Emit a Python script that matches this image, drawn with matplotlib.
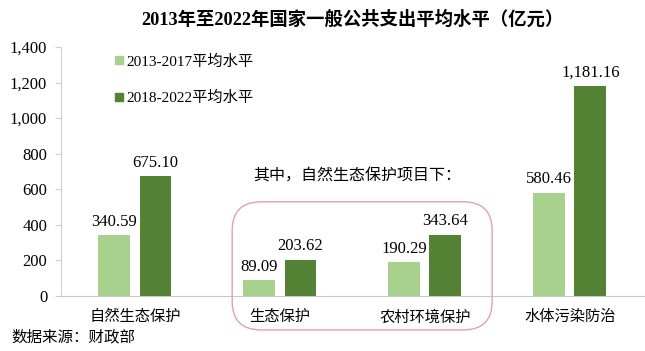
import numpy as np
import matplotlib.pyplot as plt
from matplotlib.patches import FancyBboxPatch
from matplotlib.lines import Line2D

plt.rcParams['font.family'] = ['Liberation Serif', 'Noto Sans CJK SC']

# data
categories = ['自然生态保护', '生态保护', '农村环境保护', '水体污染防治']
avg_2013_2017 = [340.59, 89.09, 190.29, 580.46]
avg_2018_2022 = [675.10, 203.62, 343.64, 1181.16]
yticks = [0, 200, 400, 600, 800, 1000, 1200, 1400]

light = '#A9D18E'
dark = '#548235'

fig = plt.figure(figsize=(6.45, 3.51), dpi=100)
ax = fig.add_axes([0.0946, 0.157, 0.905, 0.709])

x = np.arange(len(categories))
w = 0.22
off = 0.142
b1 = ax.bar(x - off, avg_2013_2017, w, color=light, label='2013-2017平均水平')
b2 = ax.bar(x + off, avg_2018_2022, w, color=dark, label='2018-2022平均水平')

for bars in (b1, b2):
    for b in bars:
        h = b.get_height()
        ax.text(b.get_x() + b.get_width() / 2, h + 30, f'{h:,.2f}',
                ha='center', va='bottom', fontsize=12)

ax.set_xlim(-0.51, 3.517)
ax.set_ylim(0, 1400)
ax.set_yticks(yticks)
ax.set_yticklabels([f'{v:,}' for v in yticks], fontsize=12)
ax.set_xticks(x)
ax.set_xticklabels(categories, fontsize=11)
ax.tick_params(axis='x', length=0, pad=10)
ax.tick_params(axis='y', length=4, color='#d0d0d0', pad=6)
for s in ['top', 'right']:
    ax.spines[s].set_visible(False)
ax.spines['left'].set_color('#d0d0d0')
ax.spines['bottom'].set_color('#c8c8c8')

handles = [Line2D([], [], marker='s', ls='', color=light, markersize=6),
           Line2D([], [], marker='s', ls='', color=dark, markersize=6)]
ax.legend(handles, ['2013-2017平均水平', '2018-2022平均水平'], loc='upper left',
          bbox_to_anchor=(0.065, 1.025), frameon=False, fontsize=11,
          labelspacing=1.45, handletextpad=0.1, handlelength=0.8)

fig.text(0.547, 0.945, '2013年至2022年国家一般公共支出平均水平（亿元）',
         ha='center', va='center', fontsize=13.2, fontweight='bold')
fig.text(0.392, 0.497, '其中，自然生态保护项目下：', ha='left', va='center', fontsize=11.5)
fig.text(0.018, 0.04, '数据来源：财政部', ha='left', va='center', fontsize=11.2)

box = FancyBboxPatch((0.36, 0.06), 0.403, 0.365, boxstyle='round,pad=0,rounding_size=0.045',
                     transform=fig.transFigure, fill=False, ec='#E3A3A3', lw=1.0,
                     mutation_aspect=1.8)
fig.patches.append(box)

fig.savefig('out.png', dpi=100)
